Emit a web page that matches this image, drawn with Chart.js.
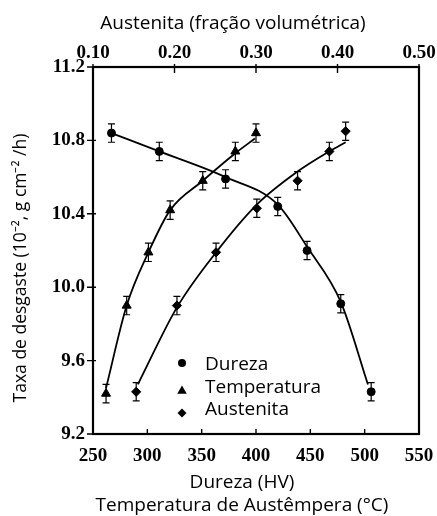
<!DOCTYPE html>
<html>
<head>
<meta charset="utf-8">
<script src="https://cdn.jsdelivr.net/npm/chart.js@4.4.1/dist/chart.umd.min.js"></script>
<style>
  html, body { margin: 0; padding: 0; background: #fff; }
</style>
</head>
<body>
<canvas id="wear-chart" width="437" height="516"></canvas>
<script>
// measured points (with error bars)
const durezaX = [267, 311, 372, 420, 447, 478, 506];
const durezaY = [10.84, 10.74, 10.59, 10.44, 10.20, 9.91, 9.43];
const tempX = [262, 281, 301, 321, 351, 381, 400];
const tempY = [9.42, 9.90, 10.19, 10.42, 10.58, 10.74, 10.84];
const austX = [0.153, 0.203, 0.251, 0.301, 0.351, 0.390, 0.410];
const austY = [9.43, 9.90, 10.19, 10.43, 10.58, 10.74, 10.85];
const errHalf = 0.05;

// fitted curves
const durCurveX = [267, 311, 372, 420, 447, 478, 503];
const durCurveY = [10.84, 10.74, 10.60, 10.45, 10.22, 9.92, 9.47];
const tempCurveX = [262, 281, 301, 321, 351, 381, 399];
const tempCurveY = [9.45, 9.90, 10.19, 10.42, 10.58, 10.73, 10.81];
const austCurveX = [0.155, 0.203, 0.251, 0.301, 0.351, 0.390, 0.410];
const austCurveY = [9.47, 9.89, 10.19, 10.45, 10.63, 10.74, 10.79];

// tick labels
const yTicks = [9.2, 9.6, 10.0, 10.4, 10.8, 11.2];
const bottomTicks = [250, 300, 350, 400, 450, 500, 550];
const topTicks = [0.10, 0.20, 0.30, 0.40, 0.50];

const legendLabels = ['Dureza', 'Temperatura', 'Austenita'];
const legendStyles = ['circle', 'triangle', 'rectRot'];

const pts = (xs, ys) => xs.map((x, i) => ({ x: x, y: ys[i] }));

const tickFont = { family: '"Liberation Serif", "Times New Roman", serif', size: 19, weight: 'bold' };
const sans = '"Open Sans", "Liberation Sans", sans-serif';

function curve(xs, ys, axis) {
  return {
    data: pts(xs, ys),
    xAxisID: axis,
    showLine: true,
    borderColor: '#000',
    borderWidth: 1.8,
    pointRadius: 0,
    cubicInterpolationMode: 'monotone',
    fill: false,
  };
}

function markers(xs, ys, axis, style, r) {
  return {
    data: pts(xs, ys),
    xAxisID: axis,
    showLine: false,
    pointStyle: style,
    pointRadius: r,
    backgroundColor: '#000',
    borderColor: '#000',
    borderWidth: 1,
    errorBar: true,
  };
}

function shape(ctx, style, x, y, r) {
  ctx.beginPath();
  if (style === 'circle') {
    ctx.arc(x, y, r, 0, Math.PI * 2);
  } else if (style === 'triangle') {
    ctx.moveTo(x, y - r);
    ctx.lineTo(x + r * 0.866, y + r * 0.5);
    ctx.lineTo(x - r * 0.866, y + r * 0.5);
    ctx.closePath();
  } else {
    ctx.moveTo(x, y - r);
    ctx.lineTo(x + r, y);
    ctx.lineTo(x, y + r);
    ctx.lineTo(x - r, y);
    ctx.closePath();
  }
  ctx.fill();
}

// no extra room for overhanging labels, the plot box is fixed
function noPad(s) {
  s.paddingLeft = 0; s.paddingRight = 0; s.paddingTop = 0; s.paddingBottom = 0;
}

const decorPlugin = {
  id: 'decor',
  beforeDatasetsDraw(chart) {
    const ctx = chart.ctx;
    const yScale = chart.scales.y;
    ctx.save();
    ctx.strokeStyle = '#000';
    ctx.lineWidth = 1.2;
    chart.data.datasets.forEach((ds) => {
      if (!ds.errorBar) return;
      const xScale = chart.scales[ds.xAxisID];
      ds.data.forEach((p) => {
        const px = xScale.getPixelForValue(p.x);
        const top = yScale.getPixelForValue(p.y + errHalf);
        const bot = yScale.getPixelForValue(p.y - errHalf);
        ctx.beginPath();
        ctx.moveTo(px, top); ctx.lineTo(px, bot);
        ctx.moveTo(px - 3.5, top); ctx.lineTo(px + 3.5, top);
        ctx.moveTo(px - 3.5, bot); ctx.lineTo(px + 3.5, bot);
        ctx.stroke();
      });
    });
    ctx.restore();
  },
  afterDraw(chart) {
    const ctx = chart.ctx;
    const a = chart.chartArea;
    const { x, x2, y } = chart.scales;
    ctx.save();
    ctx.strokeStyle = '#000';
    ctx.fillStyle = '#000';

    // frame
    ctx.lineWidth = 2.2;
    ctx.strokeRect(a.left, a.top, a.right - a.left, a.bottom - a.top);

    // tick marks
    ctx.lineWidth = 1.4;
    ctx.beginPath();
    yTicks.forEach((v) => {
      const py = y.getPixelForValue(v);
      ctx.moveTo(a.left - 6, py); ctx.lineTo(a.left + 3, py);
    });
    bottomTicks.forEach((v) => {
      const px = x.getPixelForValue(v);
      ctx.moveTo(px, a.bottom - 5); ctx.lineTo(px, a.bottom + 1);
    });
    topTicks.forEach((v) => {
      const px = x2.getPixelForValue(v);
      ctx.moveTo(px, a.top - 3); ctx.lineTo(px, a.top + 6);
    });
    ctx.stroke();

    // axis titles
    ctx.textAlign = 'center';
    ctx.textBaseline = 'middle';
    ctx.font = '19px ' + sans;
    ctx.fillText('Austenita (fração volumétrica)', 233, 24);
    ctx.fillText('Dureza (HV)', 242, 483);
    ctx.fillText('Temperatura de Austêmpera (°C)', 242, 506);
    ctx.save();
    ctx.font = '17.5px ' + sans;
    ctx.translate(21, 268);
    ctx.rotate(-Math.PI / 2);
    ctx.fillText('Taxa de desgaste (10\u207B\u00B2, g cm\u207B\u00B2 /h)', 0, 0);
    ctx.restore();

    // legend inside the plot
    const rowY = [365, 388, 410];
    const markY = [363, 391, 413];
    const markR = [4, 5.5, 4.5];
    ctx.font = '19px ' + sans;
    ctx.textAlign = 'left';
    legendLabels.forEach((lab, i) => {
      shape(ctx, legendStyles[i], 182, markY[i], markR[i]);
      ctx.fillText(lab, 205, rowY[i]);
    });
    ctx.restore();
  },
};

const ctx = document.getElementById('wear-chart').getContext('2d');
new Chart(ctx, {
  type: 'scatter',
  data: {
    datasets: [
      curve(durCurveX, durCurveY, 'x'),
      curve(tempCurveX, tempCurveY, 'x'),
      curve(austCurveX, austCurveY, 'x2'),
      markers(durezaX, durezaY, 'x', 'circle', 4),
      markers(tempX, tempY, 'x', 'triangle', 5.2),
      markers(austX, austY, 'x2', 'rectRot', 4.6),
    ],
  },
  options: {
    responsive: false,
    animation: false,
    layout: { padding: { right: 18 } },
    plugins: {
      legend: { display: false },
      tooltip: { enabled: false },
    },
    scales: {
      x: {
        type: 'linear',
        position: 'bottom',
        min: 250,
        max: 550,
        grid: { display: false, drawTicks: false },
        border: { display: false },
        afterBuildTicks: (s) => { s.ticks = bottomTicks.map((v) => ({ value: v })); },
        afterFit: (s) => { s.height = 82; noPad(s); },
        ticks: { color: '#000', font: tickFont, padding: 11, maxRotation: 0 },
      },
      x2: {
        type: 'linear',
        position: 'top',
        min: 0.1,
        max: 0.5,
        grid: { display: false, drawTicks: false },
        border: { display: false },
        afterBuildTicks: (s) => { s.ticks = topTicks.map((v) => ({ value: v })); },
        afterFit: (s) => { s.height = 67; noPad(s); },
        ticks: { color: '#000', font: tickFont, padding: 3, maxRotation: 0, callback: (v) => v.toFixed(2) },
      },
      y: {
        type: 'linear',
        position: 'left',
        min: 9.2,
        max: 11.2,
        grid: { display: false, drawTicks: false },
        border: { display: false },
        afterBuildTicks: (s) => { s.ticks = yTicks.map((v) => ({ value: v })); },
        afterFit: (s) => { s.width = 93; noPad(s); },
        ticks: { color: '#000', font: tickFont, padding: 8, callback: (v) => v.toFixed(1) },
      },
    },
  },
  plugins: [decorPlugin],
});
</script>
</body>
</html>
